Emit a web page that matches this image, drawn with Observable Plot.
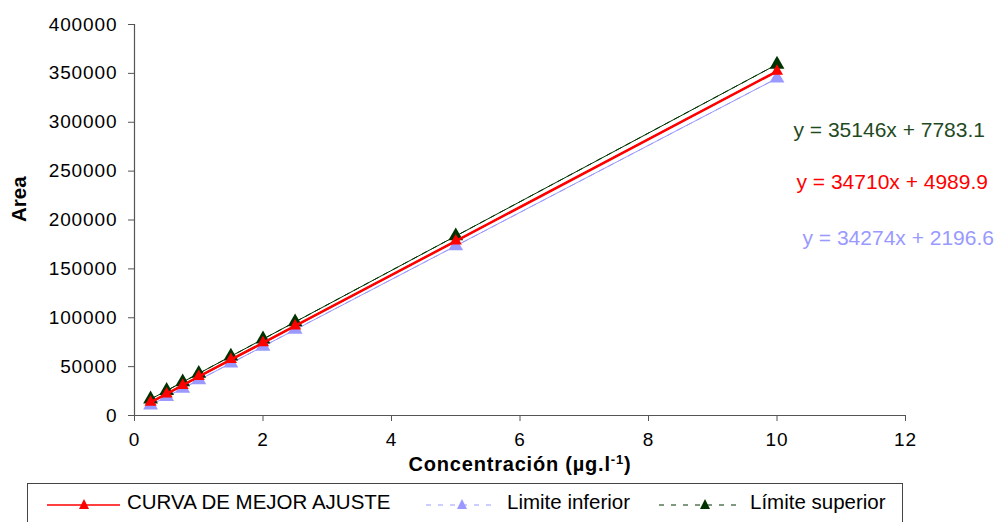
<!DOCTYPE html>
<html>
<head>
<meta charset="utf-8">
<script src="https://cdn.jsdelivr.net/npm/d3@7"></script>
<script src="https://cdn.jsdelivr.net/npm/@observablehq/plot@0.6"></script>
<style>
  html, body { margin: 0; padding: 0; background: #fff; }
  body { width: 1001px; height: 522px; overflow: hidden; position: relative; font-family: "Liberation Sans", Arial, sans-serif; }
  #chart svg { display: block; }
  #legend {
    position: absolute; left: 27px; top: 483px; width: 876px; height: 50px;
    border: 1px solid #444; box-sizing: border-box;
    font-size: 20.5px; color: #000;
  }
  .sample { position: absolute; top: 11px; }
  .label { position: absolute; top: 6px; white-space: nowrap; line-height: 24px; }
</style>
</head>
<body>
<div id="chart"></div>
<div id="legend"></div>
<script>
// Data
const concentration = [0.25, 0.5, 0.75, 1, 1.5, 2, 2.5, 5, 10];
const curvaMejorAjuste = [13500, 22100, 30800, 39900, 57200, 74300, 91600, 178400, 352100];
const limiteInferior   = [10600, 19200, 27700, 36400, 53500, 70600, 87900, 173400, 345000];
const limiteSuperior   = [16700, 25400, 34300, 43000, 60600, 78100, 95700, 183600, 359200];
const xTicks = [0, 2, 4, 6, 8, 10, 12];
const yTicks = [0, 50000, 100000, 150000, 200000, 250000, 300000, 350000, 400000];
const seriesNames = ["CURVA DE MEJOR AJUSTE", "Limite inferior", "Límite superior"];
const equations = ["y = 34710x + 4989.9", "y = 34274x + 2196.6", "y = 35146x + 7783.1"];

const colors = { red: "#ff0000", blue: "#9999ff", green: "#003300", greenText: "#1f4a1f" };

const rows = (vals, s) => concentration.map((x, i) => ({x, y: vals[i], s}));
const red = rows(curvaMejorAjuste, seriesNames[0]);
const blue = rows(limiteInferior, seriesNames[1]);
const green = rows(limiteSuperior, seriesNames[2]);

const tickStyle = { fontSize: 19, stroke: "#555", tickFormat: d => String(d), label: null };

const chart = Plot.plot({
  width: 1001,
  height: 478,
  marginLeft: 134,
  marginRight: 96,
  marginTop: 24,
  marginBottom: 63,
  style: { fontFamily: "Liberation Sans, Arial, sans-serif", fontSize: "19px", color: "#000", background: "#fff" },
  x: { domain: [0, 12], ticks: xTicks, label: null },
  y: { domain: [0, 400000], ticks: yTicks, label: null },
  marks: [
    Plot.axisX({ ticks: xTicks, tickSize: 6, tickPadding: 11, ...tickStyle }),
    Plot.axisY({ ticks: yTicks, tickSize: 6, tickPadding: 11, ...tickStyle }),
    Plot.ruleX([0], { stroke: "#555", strokeWidth: 1.2 }),
    Plot.ruleY([0], { stroke: "#555", strokeWidth: 1.2 }),
    // Limite inferior
    Plot.linearRegressionY(blue, { x: "x", y: "y", stroke: colors.blue, strokeWidth: 1, ci: 0 }),
    Plot.line(blue, { x: "x", y: "y", stroke: colors.blue, strokeWidth: 1, strokeDasharray: "5,6" }),
    Plot.dot(blue, { x: "x", y: "y", symbol: "triangle", r: 5.5, fill: colors.blue, stroke: null }),
    // Límite superior
    Plot.linearRegressionY(green, { x: "x", y: "y", stroke: colors.green, strokeWidth: 1, ci: 0 }),
    Plot.line(green, { x: "x", y: "y", stroke: colors.green, strokeWidth: 1, strokeDasharray: "5,6" }),
    Plot.dot(green, { x: "x", y: "y", symbol: "triangle", r: 5.5, fill: colors.green, stroke: null }),
    // Curva de mejor ajuste
    Plot.linearRegressionY(red, { x: "x", y: "y", stroke: colors.red, strokeWidth: 1.5, ci: 0 }),
    Plot.line(red, { x: "x", y: "y", stroke: colors.red, strokeWidth: 2.5 }),
    Plot.dot(red, { x: "x", y: "y", symbol: "triangle", r: 4.5, fill: colors.red, stroke: null }),
    // Equations
    Plot.text([equations[2]], { frameAnchor: "top-right", dx: -112, dy: 106, lineAnchor: "middle", textAnchor: "start", text: d => d, fill: colors.greenText, fontSize: 21 }),
    Plot.text([equations[0]], { frameAnchor: "top-right", dx: -109, dy: 158, lineAnchor: "middle", textAnchor: "start", text: d => d, fill: colors.red, fontSize: 21 }),
    Plot.text([equations[1]], { frameAnchor: "top-right", dx: -103, dy: 214, lineAnchor: "middle", textAnchor: "start", text: d => d, fill: colors.blue, fontSize: 21 }),
    // Axis titles
    Plot.text(["Concentración (µg.l"], { frameAnchor: "bottom", dy: 49, dx: 0, lineAnchor: "middle", text: d => d, fontWeight: "bold", fontSize: 20, fill: "#000" }),
    Plot.text(["Area"], { frameAnchor: "left", dx: -115, dy: 2, rotate: -90, lineAnchor: "middle", text: d => d, fontWeight: "bold", fontSize: 20.5, fill: "#000" })
  ]
});
document.getElementById("chart").appendChild(chart);

// letter widening of tick labels (the reference uses wide glyphs)
chart.querySelectorAll("g[aria-label='x-axis tick label'] text, g[aria-label='y-axis tick label'] text")
  .forEach(t => t.setAttribute("letter-spacing", "0.9"));

// superscript -1 on x-axis title
chart.querySelectorAll("text").forEach(t => {
  if (t.textContent === "Concentración (µg.l") {
    t.setAttribute("letter-spacing", "0.8");
    const sup = document.createElementNS("http://www.w3.org/2000/svg", "tspan");
    sup.setAttribute("dy", "-7"); sup.setAttribute("font-size", "13"); sup.textContent = "-1";
    const close = document.createElementNS("http://www.w3.org/2000/svg", "tspan");
    close.setAttribute("dy", "7"); close.textContent = ")";
    t.appendChild(sup); t.appendChild(close);
  }
});

// Legend (left offsets are relative to the legend box)
const legendItems = [
  { name: seriesNames[0], color: colors.red, dash: null, w: 1.5, left: 19, sw: 73, tri: 37, text: 99 },
  { name: seriesNames[1], color: colors.blue, dash: "5,7", w: 1, left: 398, sw: 70, tri: 36, text: 479 },
  { name: seriesNames[2], color: colors.green, dash: "5,7", w: 1, left: 631, sw: 82, tri: 46, text: 722 }
];
const legend = d3.select("#legend");
legendItems.forEach(it => {
  const s = legend.append("svg").attr("class", "sample").style("left", it.left + "px")
    .attr("width", it.sw).attr("height", 20);
  s.append("line").attr("x1", 0).attr("x2", it.sw).attr("y1", 10).attr("y2", 10)
    .attr("stroke", it.color).attr("stroke-width", it.w).attr("stroke-dasharray", it.dash);
  const cx = it.tri, cy = 10;
  s.append("path").attr("d", `M${cx},${cy - 6}L${cx + 5},${cy + 4}L${cx - 5},${cy + 4}Z`).attr("fill", it.color);
  legend.append("span").attr("class", "label").style("left", it.text + "px").text(it.name);
});
</script>
</body>
</html>
